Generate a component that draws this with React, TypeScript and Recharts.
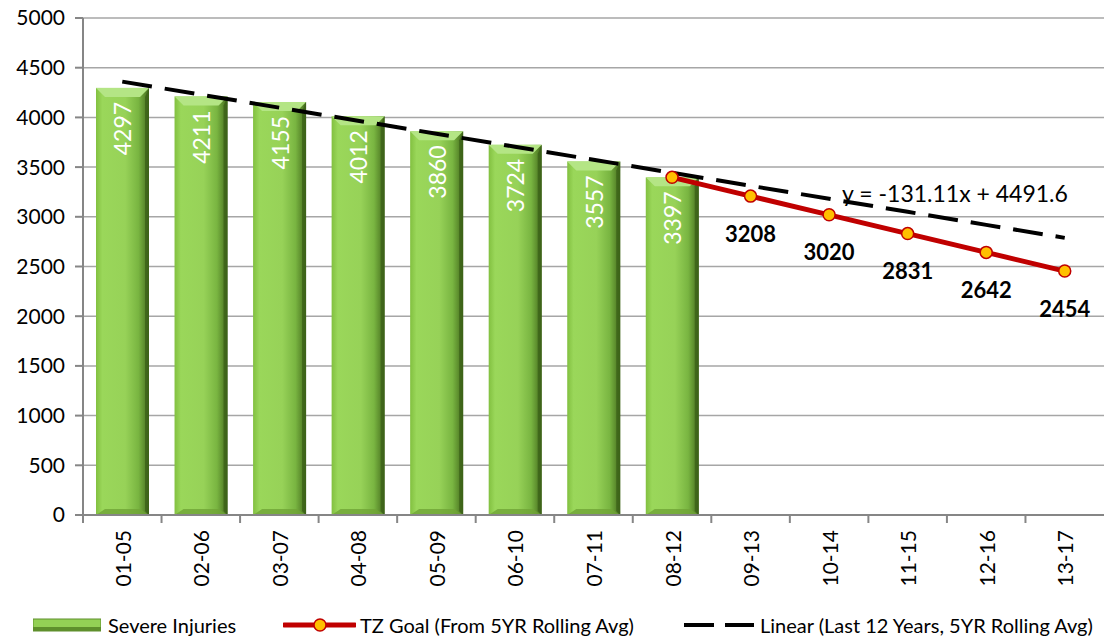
import { ComposedChart, Bar, Line, XAxis, YAxis, CartesianGrid, Legend, LabelList } from "recharts";

// values
const categories = ["01-05", "02-06", "03-07", "04-08", "05-09", "06-10", "07-11", "08-12", "09-13", "10-14", "11-15", "12-16", "13-17"];
const severeInjuries = [4297, 4211, 4155, 4012, 3860, 3724, 3557, 3397, null, null, null, null, null];
const tzGoal = [null, null, null, null, null, null, null, 3397, 3208, 3020, 2831, 2642, 2454];
const linearTrend = [4360, 4229, 4098, 3967, 3836, 3705, 3574, 3443, 3312, 3181, 3050, 2919, 2788];
const yTicks = [0, 500, 1000, 1500, 2000, 2500, 3000, 3500, 4000, 4500, 5000];
const trendEquation = "y = -131.11x + 4491.6";

const rows = categories.map((cat, i) => ({
  cat,
  severe: severeInjuries[i],
  goal: tzGoal[i],
  trend: linearTrend[i],
}));

const FONT = "Lato, 'Open Sans', sans-serif";
const AXIS = "#868686";
const GRID = "#a6a6a6";
const HALF_STEP = (1104 - 83) / categories.length / 2;

const BarShape = (props: any) => {
  const { x, y, width, height, index } = props;
  if (!height || height <= 0) return null;
  const id = `barGrad${index}`;
  const b = 9;
  return (
    <g>
      <defs>
        <linearGradient id={id} x1="0" y1="0" x2="1" y2="0">
          <stop offset="0%" stopColor="#82c040" />
          <stop offset="12%" stopColor="#9ad75a" />
          <stop offset="55%" stopColor="#97d258" />
          <stop offset="80%" stopColor="#79b541" />
          <stop offset="100%" stopColor="#456c1d" />
        </linearGradient>
      </defs>
      <rect x={x} y={y} width={width} height={height} fill={`url(#${id})`} />
      <polygon points={`${x},${y} ${x + width},${y} ${x + width - b},${y + b} ${x + b},${y + b}`} fill="#b4e585" />
      <polygon points={`${x + width},${y} ${x + width},${y + height} ${x + width - 4},${y + height - 4} ${x + width - 4},${y + b}`} fill="#3a5f17" opacity={0.75} />
      <polygon points={`${x},${y + height} ${x + width},${y + height} ${x + width - b},${y + height - 6} ${x + b},${y + height - 6}`} fill="#6fa436" opacity={0.8} />
    </g>
  );
};

const BarValue = (props: any) => {
  const { x, y, width, value } = props;
  if (value == null) return null;
  const cx = x + width / 2;
  const ty = y + 14;
  return (
    <text x={cx} y={ty} transform={`rotate(-90 ${cx} ${ty})`} textAnchor="end" dominantBaseline="central" fill="#fff" fontSize={23} fontFamily={FONT}>
      {value}
    </text>
  );
};

const GoalValue = (props: any) => {
  const { x, y, value, index } = props;
  if (value == null || index < 8) return null;
  return (
    <text x={x} y={y + 37} textAnchor="middle" dominantBaseline="central" fill="#000" fontSize={22} fontWeight="bold" fontFamily={FONT}>
      {value}
    </text>
  );
};

const TrendLabel = (props: any) => {
  const { x, y, index } = props;
  if (index !== 9) return null;
  return (
    <text x={x + 13} y={y - 6} textAnchor="start" dominantBaseline="central" fill="#000" fontSize={23} fontFamily={FONT}>
      {trendEquation}
    </text>
  );
};

const XTick = (props: any) => {
  const { x, y, payload } = props;
  return (
    <g>
      <line x1={x - HALF_STEP} y1={y} x2={x - HALF_STEP} y2={y + 8} stroke={AXIS} strokeWidth={2} />
      <text x={x} y={y + 15} transform={`rotate(-90 ${x} ${y + 15})`} textAnchor="end" dominantBaseline="central" fill="#000" fontSize={21} fontFamily={FONT}>
        {payload.value}
      </text>
    </g>
  );
};

const LegendBox = () => (
  <div style={{ position: "relative", width: 1104, height: 38, fontFamily: FONT, fontSize: 20, color: "#000" }}>
    <div style={{ position: "absolute", left: 33, top: 12, display: "flex", alignItems: "center" }}>
      <svg width={68} height={16}>
        <rect x={0} y={2} width={68} height={12} fill="#94d055" stroke="#5f8f2c" strokeWidth={1} />
        <rect x={0} y={10} width={68} height={4} fill="#5f8f2c" />
      </svg>
      <span style={{ marginLeft: 7 }}>Severe Injuries</span>
    </div>
    <div style={{ position: "absolute", left: 283, top: 12, display: "flex", alignItems: "center" }}>
      <svg width={73} height={16}>
        <line x1={1} y1={8} x2={72} y2={8} stroke="#c00000" strokeWidth={5} strokeLinecap="round" />
        <circle cx={37} cy={8} r={6} fill="#ffc000" stroke="#c00000" strokeWidth={1.5} />
      </svg>
      <span style={{ marginLeft: 4 }}>TZ Goal (From 5YR Rolling Avg)</span>
    </div>
    <div style={{ position: "absolute", left: 684, top: 12, display: "flex", alignItems: "center" }}>
      <svg width={70} height={16}>
        <line x1={0} y1={8} x2={70} y2={8} stroke="#000" strokeWidth={4} strokeDasharray="30 11" />
      </svg>
      <span style={{ marginLeft: 6 }}>Linear (Last 12 Years, 5YR Rolling Avg)</span>
    </div>
  </div>
);

const App = () => (
  <div style={{ position: "absolute", left: 0, top: 0, width: 1104, height: 639, background: "#fff" }}>
    <ComposedChart width={1104} height={639} data={rows} margin={{ top: 18, right: 0, left: 0, bottom: 0 }} barSize={53}>
      <CartesianGrid vertical={false} stroke={GRID} strokeWidth={1.5} />
      <XAxis dataKey="cat" interval={0} height={86} tickSize={0} tickMargin={0} tick={<XTick />} axisLine={{ stroke: AXIS, strokeWidth: 2 }} tickLine={false} />
      <YAxis width={83} domain={[0, 5000]} ticks={yTicks} interval={0} tickSize={8} tickMargin={10}
        axisLine={{ stroke: AXIS, strokeWidth: 2 }} tickLine={{ stroke: AXIS, strokeWidth: 2 }}
        tick={{ fill: "#000", fontSize: 21, fontFamily: FONT }} />
      <Legend verticalAlign="bottom" content={<LegendBox />} wrapperStyle={{ left: 0, width: 1104 }} />
      <Bar dataKey="severe" name="Severe Injuries" shape={<BarShape />} isAnimationActive={false}>
        <LabelList dataKey="severe" content={<BarValue />} />
      </Bar>
      <Line dataKey="trend" name="Linear (Last 12 Years, 5YR Rolling Avg)" stroke="#000" strokeWidth={4} strokeDasharray="30 13" dot={false} isAnimationActive={false}>
        <LabelList dataKey="trend" content={<TrendLabel />} />
      </Line>
      <Line dataKey="goal" name="TZ Goal (From 5YR Rolling Avg)" stroke="#c00000" strokeWidth={5} connectNulls={false}
        dot={{ r: 6, fill: "#ffc000", stroke: "#c00000", strokeWidth: 1.5 }} isAnimationActive={false}>
        <LabelList dataKey="goal" content={<GoalValue />} />
      </Line>
    </ComposedChart>
  </div>
);

export default App;
